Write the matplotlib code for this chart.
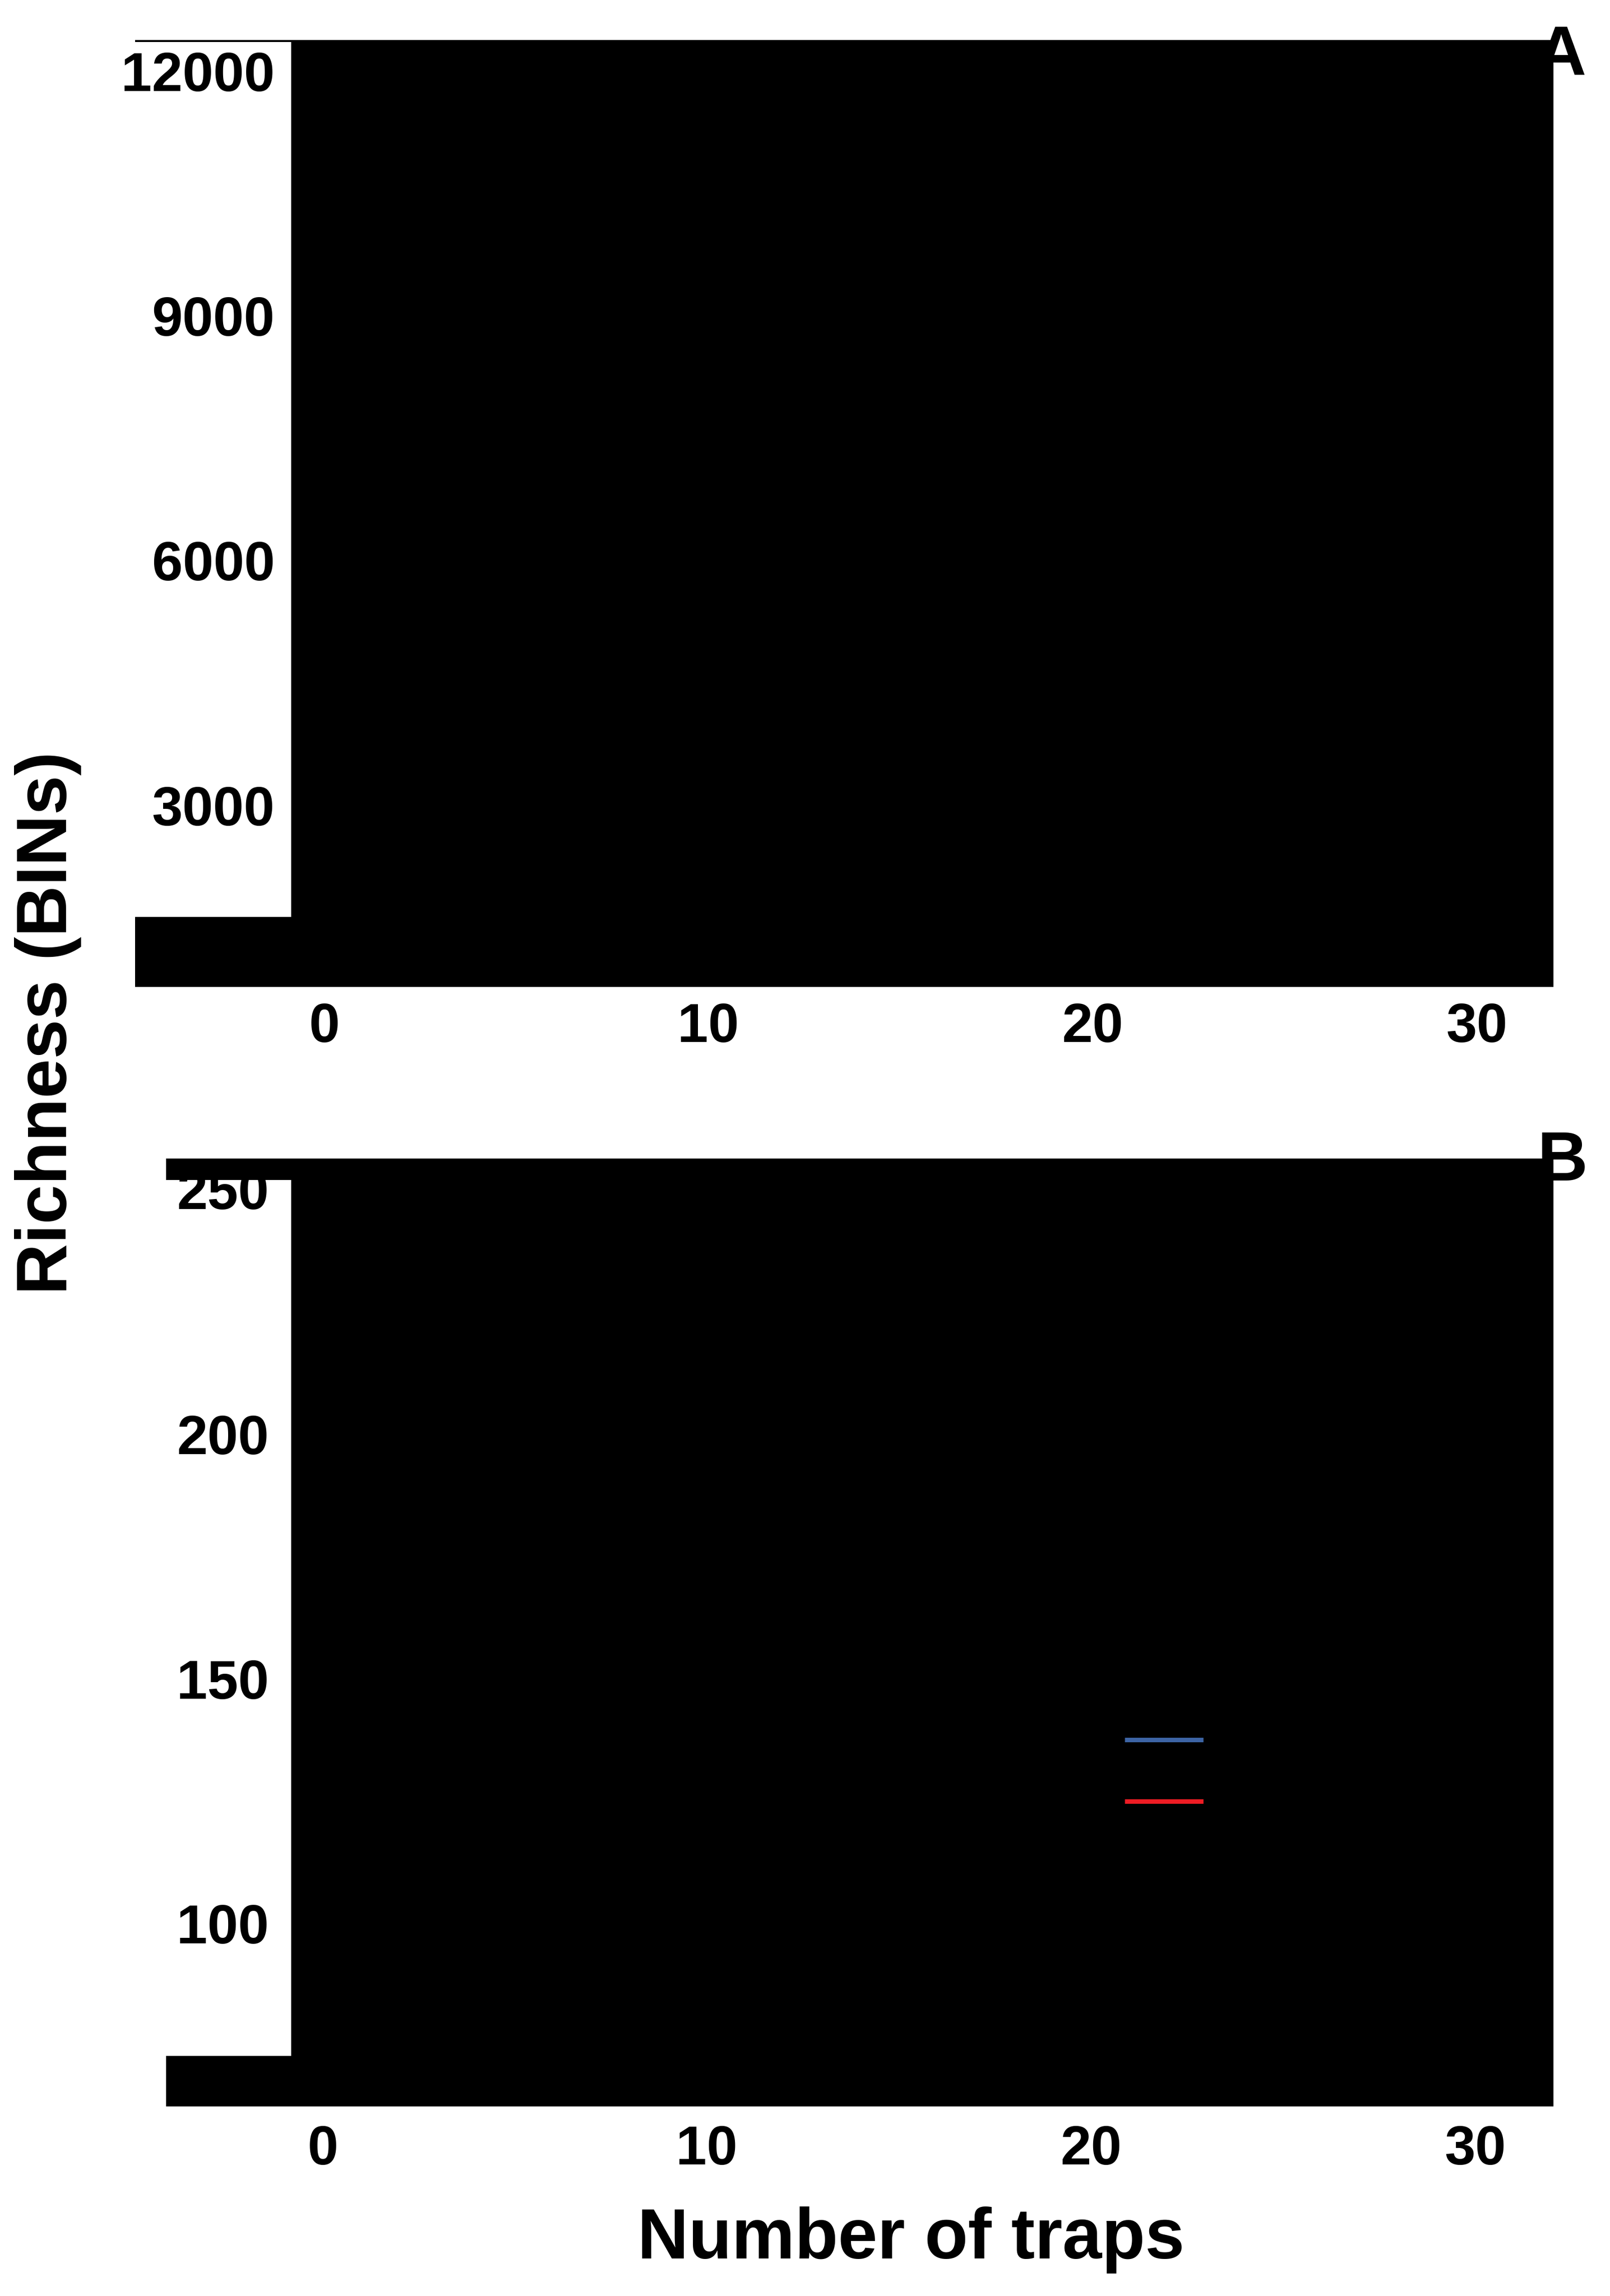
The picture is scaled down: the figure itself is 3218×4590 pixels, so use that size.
import matplotlib

matplotlib.use("Agg")
import matplotlib.pyplot as plt
from matplotlib.lines import Line2D
from matplotlib.patches import Rectangle

# Figure size in pixels (saved at 300 dpi)
W, H = 3218, 4590
DPI = 300

# Axis data
x_ticks = [0, 10, 20, 30]
a_y_ticks = [3000, 6000, 9000, 12000]
b_y_ticks = [100, 150, 200, 250]
a_xlim = (-0.86, 32.0)
b_xlim = (-0.82, 32.04)
a_ylim = (774, 12383)
b_ylim = (62.7, 256.3)

# Two series shown only through their legend keys
series_labels = ["", ""]
series_colors = ["#3D64A4", "#ED1C24"]

plt.rcParams["font.family"] = ["Liberation Sans", "DejaVu Sans"]
plt.rcParams["font.weight"] = "bold"


def fig_box(left, top, right, bottom):
    """pixel box -> figure fraction [x0, y0, w, h]"""
    return [left / W, 1 - bottom / H, (right - left) / W, (bottom - top) / H]


fig = plt.figure(figsize=(W / DPI, H / DPI), dpi=DPI)
fig.patch.set_facecolor("white")


def make_panel(box, xlim, ylim, yticks, ypad, xpad):
    ax = fig.add_axes(box)
    ax.set_facecolor("black")
    ax.set_xlim(*xlim)
    ax.set_ylim(*ylim)
    ax.set_xticks(x_ticks)
    ax.set_xticklabels([str(t) for t in x_ticks])
    ax.set_yticks(yticks)
    ax.set_yticklabels([str(t) for t in yticks])
    ax.tick_params(axis="x", length=0, pad=xpad, labelsize=26.5)
    ax.tick_params(axis="y", length=0, pad=ypad, labelsize=26.5)
    for lab in ax.get_xticklabels() + ax.get_yticklabels():
        lab.set_fontweight("bold")
    for sp in ax.spines.values():
        sp.set_visible(False)
    return ax


ax_a = make_panel(fig_box(582, 80, 3105, 1973), a_xlim, a_ylim, a_y_ticks, 7.9, 7.4)
ax_b = make_panel(fig_box(582, 2316, 3105, 4211), b_xlim, b_ylim, b_y_ticks, 10.8, 8.9)

# black fill bleeding into the tick-label column
for left, top, right, bottom in [
    (270, 80, 582, 84),
    (270, 1833, 582, 1973),
    (332, 2316, 582, 2359),
    (332, 4110, 582, 4211),
]:
    x0, y0, w, h = fig_box(left, top, right, bottom)
    fig.add_artist(
        Rectangle((x0, y0), w, h, transform=fig.transFigure,
                  facecolor="black", edgecolor="none")
    )

# legend in panel B
handles = [
    Line2D([], [], color=c, linewidth=2.16, solid_capstyle="butt")
    for c in series_colors
]
ax_b.legend(
    handles,
    series_labels,
    loc="center",
    bbox_to_anchor=(0.6914, 0.3525),
    frameon=False,
    fontsize=10,
    handlelength=3.77,
    handletextpad=0,
    borderpad=0,
    borderaxespad=0,
    labelspacing=1.98,
    labelcolor="black",
)

# panel letters
fig.text(3120 / W, 1 - 150 / H, "A", ha="center", va="baseline",
         fontsize=33.5, fontweight="bold")
fig.text(3123 / W, 1 - 2360 / H, "B", ha="center", va="baseline",
         fontsize=33.5, fontweight="bold")

# shared axis titles
fig.text(96 / W, 1 - 2045 / H, "Richness (BINs)", rotation=90,
         ha="center", va="center", fontsize=34, fontweight="bold")
fig.text(1821 / W, 1 - 4515 / H, "Number of traps", ha="center",
         va="baseline", fontsize=34, fontweight="bold")

fig.savefig("out.png", dpi=DPI, facecolor="white")
